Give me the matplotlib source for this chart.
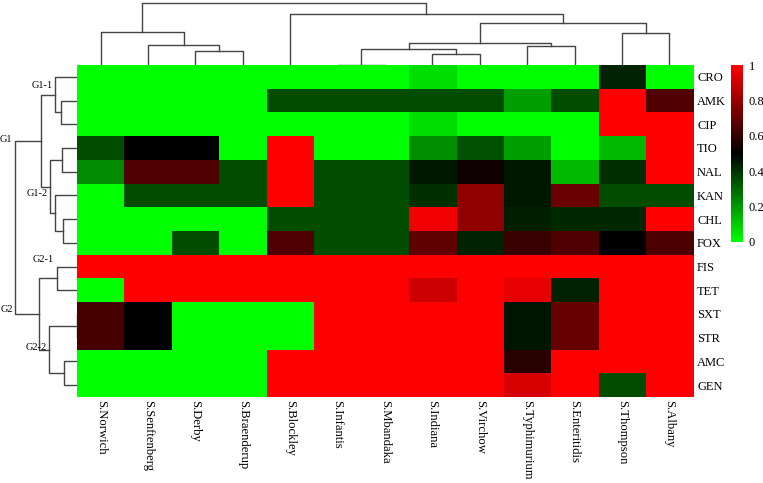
import numpy as np
import matplotlib
matplotlib.use("Agg")
import matplotlib.pyplot as plt
from matplotlib.colors import LinearSegmentedColormap

plt.rcParams['font.family'] = ['Liberation Serif', 'DejaVu Serif']

# ---------------- data ----------------
serotypes = ["S.Norwich", "S.Senftenberg", "S.Derby", "S.Braenderup", "S.Blockley",
             "S.Infantis", "S.Mbandaka", "S.Indiana", "S.Virchow", "S.Typhimurium",
             "S.Enteritidis", "S.Thompson", "S.Albany"]
antibiotics = ["CRO", "AMK", "CIP", "TIO", "NAL", "KAN", "CHL", "FOX",
               "FIS", "TET", "SXT", "STR", "AMC", "GEN"]

CRO = [0, 0, 0, 0, 0, 0, 0, 0.07, 0, 0, 0, 0.43, 0]
AMK = [0, 0, 0, 0, 0.35, 0.35, 0.35, 0.35, 0.35, 0.19, 0.35, 1, 0.66]
CIP = [0, 0, 0, 0, 0, 0, 0, 0.07, 0, 0, 0, 1, 1]
TIO = [0.35, 0.5, 0.5, 0, 1, 0, 0, 0.22, 0.34, 0.19, 0, 0.14, 1]
NAL = [0.23, 0.66, 0.66, 0.35, 1, 0.35, 0.35, 0.45, 0.53, 0.45, 0.14, 0.41, 1]
KAN = [0, 0.35, 0.35, 0.35, 1, 0.35, 0.35, 0.41, 0.78, 0.45, 0.71, 0.35, 0.35]
CHL = [0, 0, 0, 0, 0.35, 0.35, 0.35, 0.97, 0.78, 0.44, 0.42, 0.42, 1]
FOX = [0, 0, 0.35, 0, 0.66, 0.35, 0.35, 0.69, 0.43, 0.61, 0.66, 0.5, 0.65]
FIS = [1, 1, 1, 1, 1, 1, 1, 1, 1, 1, 1, 1, 1]
TET = [0, 1, 1, 1, 1, 1, 1, 0.9, 1, 0.95, 0.43, 1, 1]
SXT = [0.64, 0.5, 0, 0, 0, 1, 1, 1, 1, 0.46, 0.7, 1, 1]
STR = [0.64, 0.5, 0, 0, 0, 1, 1, 1, 1, 0.46, 0.7, 1, 1]
AMC = [0, 0, 0, 0, 1, 1, 1, 1, 1, 0.58, 1, 1, 1]
GEN = [0, 0, 0, 0, 1, 1, 1, 1, 1, 0.92, 1, 0.35, 1]

# linkage: (child_a, child_b, height); new clusters numbered n, n+1, ...
col_linkage = [(5, 6, 0.3), (7, 8, 11.3), (13, 14, 16.3), (9, 10, 18.7),
               (15, 16, 21.7), (11, 12, 31.7), (17, 18, 41.7), (4, 19, 50.7),
               (2, 3, 14.3), (1, 21, 20.3), (0, 22, 32.7), (23, 20, 61.7)]
row_linkage = [(1, 2, 15.7), (0, 14, 22.0), (3, 4, 14.7), (6, 7, 13.7),
               (5, 17, 22.0), (16, 18, 27.0), (15, 19, 36.0), (8, 9, 20.3),
               (10, 11, 0.3), (12, 13, 13.0), (22, 23, 27.7), (21, 24, 37.7),
               (20, 25, 62.0)]
group_labels = ["G1-1", "G1", "G1-2", "G2-1", "G2", "G2-2"]
cbar_ticks = [0, 0.2, 0.4, 0.6, 0.8, 1]
cbar_ticklabels = ["0", "0.2", "0.4", "0.6", "0.8", "1"]

data = np.array([CRO, AMK, CIP, TIO, NAL, KAN, CHL, FOX, FIS, TET, SXT, STR, AMC, GEN])

# ---------------- figure ----------------
W, H = 763, 483
fig = plt.figure(figsize=(W / 100, H / 100), dpi=100)

def px_axes(x0, y0, x1, y1):
    return fig.add_axes([x0 / W, 1 - y1 / H, (x1 - x0) / W, (y1 - y0) / H])

cmap = LinearSegmentedColormap.from_list("gkr", ["#00ff00", "#000000", "#ff0000"])

hx0, hy0, hx1, hy1 = 77, 65, 693, 397
ax = px_axes(hx0, hy0, hx1, hy1)
im = ax.imshow(data, cmap=cmap, vmin=0, vmax=1, aspect='auto', interpolation='nearest')
ax.set_xticks(range(len(serotypes)))
ax.set_xticklabels(serotypes, rotation=-90, fontsize=9.1, va='top', ha='center')
ax.yaxis.tick_right()
ax.set_yticks(range(len(antibiotics)))
ax.set_yticklabels(antibiotics, fontsize=9)
ax.tick_params(axis='y', length=0, pad=3)
ax.tick_params(axis='x', length=0, pad=2)
for s in ax.spines.values():
    s.set_visible(False)

line_kw = dict(color="#444444", lw=1.0)

def dendro(ax, linkage, n, vertical_leaves):
    pos = {i: float(i) for i in range(n)}
    hgt = {i: 0.0 for i in range(n)}
    for k, (a, b, h) in enumerate(linkage):
        node = n + k
        pa, pb = pos[a], pos[b]
        if vertical_leaves:  # top dendrogram: leaves along x, height on y
            ax.plot([pa, pa, pb, pb], [hgt[a], h, h, hgt[b]], **line_kw)
        else:
            ax.plot([hgt[a], h, h, hgt[b]], [pa, pa, pb, pb], **line_kw)
        pos[node] = (pa + pb) / 2
        hgt[node] = h

# top dendrogram
axt = px_axes(hx0, 0, hx1, hy0)
dendro(axt, col_linkage, len(serotypes), True)
axt.set_xlim(-0.5, len(serotypes) - 0.5)
axt.set_ylim(0, 65)
axt.axis('off')

# left dendrogram
axl = px_axes(0, hy0, hx0, hy1)
dendro(axl, row_linkage, len(antibiotics), False)
axl.set_xlim(77, 0)
axl.set_ylim(len(antibiotics) - 0.5, -0.5)
axl.axis('off')

# group labels
label_pos = [(53, 86), (12.5, 139), (48, 193), (54, 259), (13, 310), (47, 347)]
for txt, (x, y) in zip(group_labels, label_pos):
    fig.text(x / W, 1 - y / H, txt, ha='right', va='center', fontsize=7.5)

# colorbar
cax = px_axes(731, 65, 743, 242)
cb = fig.colorbar(im, cax=cax)
cb.set_ticks(cbar_ticks)
cb.set_ticklabels(cbar_ticklabels)
cb.outline.set_visible(False)
cax.tick_params(length=0, labelsize=9, pad=4)

fig.savefig("out.png", dpi=100)
